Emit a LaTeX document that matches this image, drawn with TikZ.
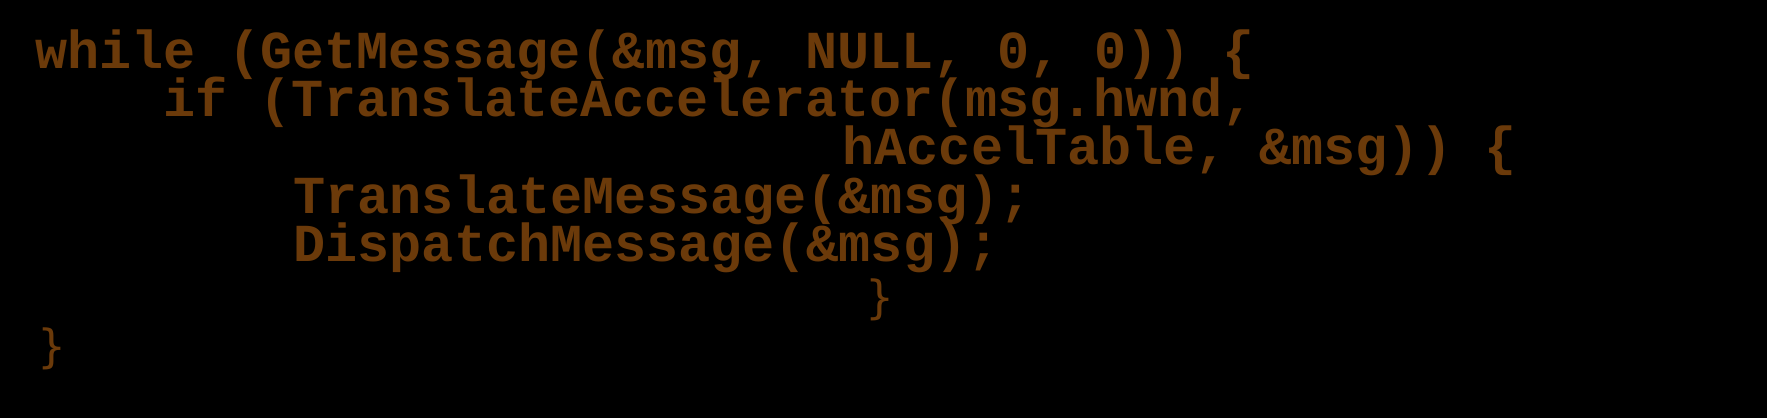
\documentclass[tikz,border=0pt]{standalone}
\usepackage{fontspec}
\setmonofont{Liberation Mono}
\newfontfamily\bracefont{DejaVu Sans}
\definecolor{codebrown}{HTML}{6B3A0A}
\begin{document}
\begin{tikzpicture}[x=0.01cm,y=-0.01cm,
  code/.style={anchor=base west,inner sep=0pt,text=codebrown,font=\ttfamily\bfseries\fontsize{15.2pt}{15.2pt}\selectfont},
  brace/.style={anchor=center,inner sep=0pt,text=codebrown,font=\bracefont\fontsize{13pt}{13pt}\selectfont}]
\fill[black] (0,0) rectangle (1767,418);
\useasboundingbox (0,0) rectangle (1767,418);
\node[code] (l1) at (35,68) {while (GetMessage(\&msg, NULL, 0, 0)) \{};
\node[code] (l2) at (163,116) {if (TranslateAccelerator(msg.hwnd,};
\node[code] (l3) at (842,164) {hAccelTable, \&msg)) \{};
\node[code] (l4) at (293,213) {TranslateMessage(\&msg);};
\node[code] (l5) at (293,261) {DispatchMessage(\&msg);};
\node[brace] (b1) at (880,300) {\}};
\node[brace] (b2) at (52,349) {\}};
\end{tikzpicture}
\end{document}
